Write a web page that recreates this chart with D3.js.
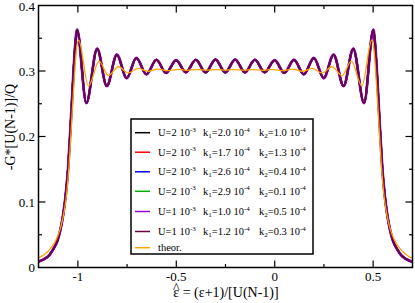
<!DOCTYPE html>
<html>
<head>
  <meta charset="utf8" />
  <style>
    body {
      margin: 0;
      background: #fff;
    }
    .tick-label {
      font-size: 13px;
    }
    .axis-label {
      font-size: 14px;
    }
    .legend text {
      font-size: 10.5px;
    }
    .sup, .sub {
      font-size: 7px;
    }
  </style>
</head>
<body>
  <script src="https://d3js.org/d3.v7.min.js"></script>

  <script>
    // simulated curve (all six runs lie on top of each other)
    var measured = [
      [-1.200, 0.0090], [-1.170, 0.0130], [-1.145, 0.0190], [-1.125, 0.0280],
      [-1.105, 0.0400], [-1.090, 0.0560], [-1.075, 0.0800], [-1.062, 0.1100],
      [-1.050, 0.1500], [-1.040, 0.2000], [-1.030, 0.2550], [-1.021, 0.3050],
      [-1.012, 0.3450], [-1.004, 0.3630],
      [-0.957, 0.2510], [-0.902, 0.3340], [-0.853, 0.2770], [-0.802, 0.3250],
      [-0.752, 0.2890], [-0.703, 0.3200], [-0.652, 0.2950], [-0.601, 0.3170],
      [-0.552, 0.2970], [-0.501, 0.3165], [-0.451, 0.2980], [-0.401, 0.3170],
      [-0.351, 0.2978], [-0.301, 0.3175], [-0.251, 0.2978], [-0.201, 0.3175],
      [-0.151, 0.2978], [-0.101, 0.3170], [-0.051, 0.2980], [0.000, 0.3165],
      [0.049, 0.2970], [0.098, 0.3170], [0.148, 0.2950], [0.199, 0.3200],
      [0.249, 0.2890], [0.299, 0.3250], [0.350, 0.2770], [0.399, 0.3340],
      [0.454, 0.2510],
      [0.501, 0.3630], [0.509, 0.3450], [0.518, 0.3050], [0.527, 0.2550],
      [0.537, 0.2000], [0.547, 0.1500], [0.559, 0.1100], [0.572, 0.0800],
      [0.587, 0.0560], [0.602, 0.0400], [0.622, 0.0280], [0.642, 0.0190],
      [0.667, 0.0130], [0.700, 0.0085]
    ];

    // theoretical curve
    var theory = [
      [-1.200, 0.0147], [-1.170, 0.0200], [-1.145, 0.0270], [-1.120, 0.0370],
      [-1.100, 0.0500], [-1.085, 0.0640], [-1.070, 0.0850], [-1.058, 0.1100],
      [-1.045, 0.1550], [-1.033, 0.2150], [-1.020, 0.2800], [-1.008, 0.3300],
      [-0.996, 0.3470],
      [-0.946, 0.2770], [-0.892, 0.3150], [-0.845, 0.2930], [-0.794, 0.3065],
      [-0.744, 0.2970], [-0.693, 0.3040], [-0.643, 0.2995], [-0.593, 0.3030],
      [-0.543, 0.3005], [-0.493, 0.3025], [-0.443, 0.3010], [-0.393, 0.3022],
      [-0.343, 0.3012], [-0.293, 0.3020], [-0.251, 0.3014], [-0.210, 0.3020],
      [-0.160, 0.3012], [-0.110, 0.3022], [-0.060, 0.3010], [-0.010, 0.3025],
      [0.040, 0.3005], [0.090, 0.3030], [0.140, 0.2995], [0.190, 0.3040],
      [0.241, 0.2970], [0.291, 0.3065], [0.342, 0.2930], [0.389, 0.3150],
      [0.443, 0.2770],
      [0.493, 0.3470], [0.505, 0.3300], [0.517, 0.2800], [0.530, 0.2150],
      [0.542, 0.1550], [0.555, 0.1100], [0.567, 0.0850], [0.582, 0.0640],
      [0.597, 0.0500], [0.617, 0.0370], [0.642, 0.0270], [0.667, 0.0200],
      [0.697, 0.0150], [0.700, 0.0150]
    ];

    var seriesU = ["2", "2", "2", "2", "1", "1"];
    var seriesK1 = ["2.0", "1.7", "2.6", "2.9", "1.0", "1.2"];
    var seriesK2 = ["1.0", "1.3", "0.4", "0.1", "0.5", "0.3"];
    var seriesColors = ["#000000", "#ff0000", "#0000ff", "#00b000", "#940ad3", "#670748", "#ffa500"];
    var seriesData = [measured, measured, measured, measured, measured, measured, theory];

    var xMajor = [-1, -0.5, 0, 0.5];
    var xMinor = [-0.75, -0.25, 0.25];
    var yMajor = [0, 0.1, 0.2, 0.3, 0.4];
    var yMinor = [0.05, 0.15, 0.25, 0.35];

    var width = 415, height = 303;
    var margin = {left: 38.5, right: 2.5, top: 5.5, bottom: 35.5};

    var x = d3.scaleLinear().domain([-1.2, 0.7]).range([margin.left, width - margin.right]);
    var y = d3.scaleLinear().domain([0, 0.4]).range([height - margin.bottom, margin.top]);

    var svg = d3.select("body").append("svg")
        .attr("width", width).attr("height", height)
        .style("font-family", "'Liberation Serif', 'Times New Roman'");

    svg.append("defs").append("clipPath").attr("id", "clip")
      .append("rect")
        .attr("x", x.range()[0]).attr("y", y.range()[1])
        .attr("width", x.range()[1] - x.range()[0])
        .attr("height", y.range()[0] - y.range()[1]);

    var line = d3.line()
      .x(d => x(d[0]))
      .y(d => y(d[1]))
      .curve(d3.curveMonotoneX);

    var widths = [2, 2, 2, 2, 2.8, 2, 1.3];
    var plot = svg.append("g").attr("clip-path", "url(#clip)");
    plot.selectAll("path")
        .data(seriesData)
      .enter().append("path")
        .attr("d", line)
        .attr("fill", "none")
        .attr("stroke", (d, i) => seriesColors[i])
        .attr("stroke-width", (d, i) => widths[i])
        .attr("stroke-linejoin", "round");

    // axes, ticks inside on all four sides
    var x0 = x.range()[0], x1 = x.range()[1], y0 = y.range()[0], y1 = y.range()[1];
    var ticks = svg.append("g").attr("stroke", "#000").attr("stroke-width", 1.2);
    function xTicks(vals, len) {
      vals.forEach(v => {
        ticks.append("line").attr("x1", x(v)).attr("x2", x(v)).attr("y1", y0).attr("y2", y0 - len);
        ticks.append("line").attr("x1", x(v)).attr("x2", x(v)).attr("y1", y1).attr("y2", y1 + len);
      });
    }
    function yTicks(vals, len) {
      vals.forEach(v => {
        ticks.append("line").attr("y1", y(v)).attr("y2", y(v)).attr("x1", x0).attr("x2", x0 + len);
        ticks.append("line").attr("y1", y(v)).attr("y2", y(v)).attr("x1", x1).attr("x2", x1 - len);
      });
    }
    xTicks(xMajor, 7);
    xTicks(xMinor, 3.5);
    yTicks(yMajor.slice(1, 4), 7);
    yTicks(yMinor, 3.5);

    svg.append("rect")
      .attr("x", x0).attr("y", y1)
      .attr("width", x1 - x0).attr("height", y0 - y1)
      .attr("fill", "none").attr("stroke", "#000").attr("stroke-width", 1.5);

    svg.selectAll(".xl")
        .data(xMajor)
      .enter().append("text")
        .attr("class", "tick-label")
        .attr("x", d => x(d))
        .attr("y", 281)
        .attr("text-anchor", "middle")
        .text(d => d3.format("")(d).replace("−", "-"));

    svg.selectAll(".yl")
        .data(yMajor)
      .enter().append("text")
        .attr("class", "tick-label")
        .attr("x", 35)
        .attr("y", d => Math.max(y(d) + 4.7, 10.5))
        .attr("text-anchor", "end")
        .text(d => d === 0 ? "0" : d3.format(".1f")(d));

    svg.append("text")
      .attr("class", "axis-label")
      .attr("transform", "translate(14.5,127) rotate(-90)")
      .attr("text-anchor", "middle")
      .text("-G*[U(N-1)]/Q");

    var xl = svg.append("text")
      .attr("class", "axis-label")
      .attr("x", 226)
      .attr("y", 297)
      .attr("text-anchor", "middle")
      .text("\u03b5 = (\u03b5+1)/[U(N-1)]");
    // hat over the first epsilon
    var ext = xl.node().getExtentOfChar(0);
    svg.append("text")
      .attr("class", "axis-label")
      .attr("x", ext.x + ext.width / 2)
      .attr("y", 293)
      .attr("text-anchor", "middle")
      .text("^");

    // legend
    var rowY = [132.7, 152.2, 171.8, 191.3, 211.5, 231.5, 247.7];
    var legend = svg.append("g").attr("class", "legend");
    legend.append("rect")
      .attr("x", 131).attr("y", 119)
      .attr("width", 182).attr("height", 135)
      .attr("fill", "#fff").attr("stroke", "#000").attr("stroke-width", 1.5);

    seriesColors.forEach((c, i) => {
      legend.append("line")
        .attr("x1", 135).attr("x2", 150)
        .attr("y1", rowY[i]).attr("y2", rowY[i])
        .attr("stroke", c).attr("stroke-width", 1.5);
      var t = legend.append("text").attr("x", 158).attr("y", rowY[i] + 3.6);
      if (i === 6) {
        t.text("theor.");
        return;
      }
      t.append("tspan").text("U=" + seriesU[i] + " 10");
      t.append("tspan").attr("class", "sup").attr("dy", -4.5).text("-3");
      t.append("tspan").attr("x", 203).attr("dy", 4.5).text("k");
      t.append("tspan").attr("class", "sub").attr("dy", 2).text("1");
      t.append("tspan").attr("dy", -2).text("=" + seriesK1[i] + " 10");
      t.append("tspan").attr("class", "sup").attr("dy", -4.5).text("-4");
      t.append("tspan").attr("x", 259).attr("dy", 4.5).text("k");
      t.append("tspan").attr("class", "sub").attr("dy", 2).text("2");
      t.append("tspan").attr("dy", -2).text("=" + seriesK2[i] + " 10");
      t.append("tspan").attr("class", "sup").attr("dy", -4.5).text("-4");
    });
  </script>
</body>
</html>
